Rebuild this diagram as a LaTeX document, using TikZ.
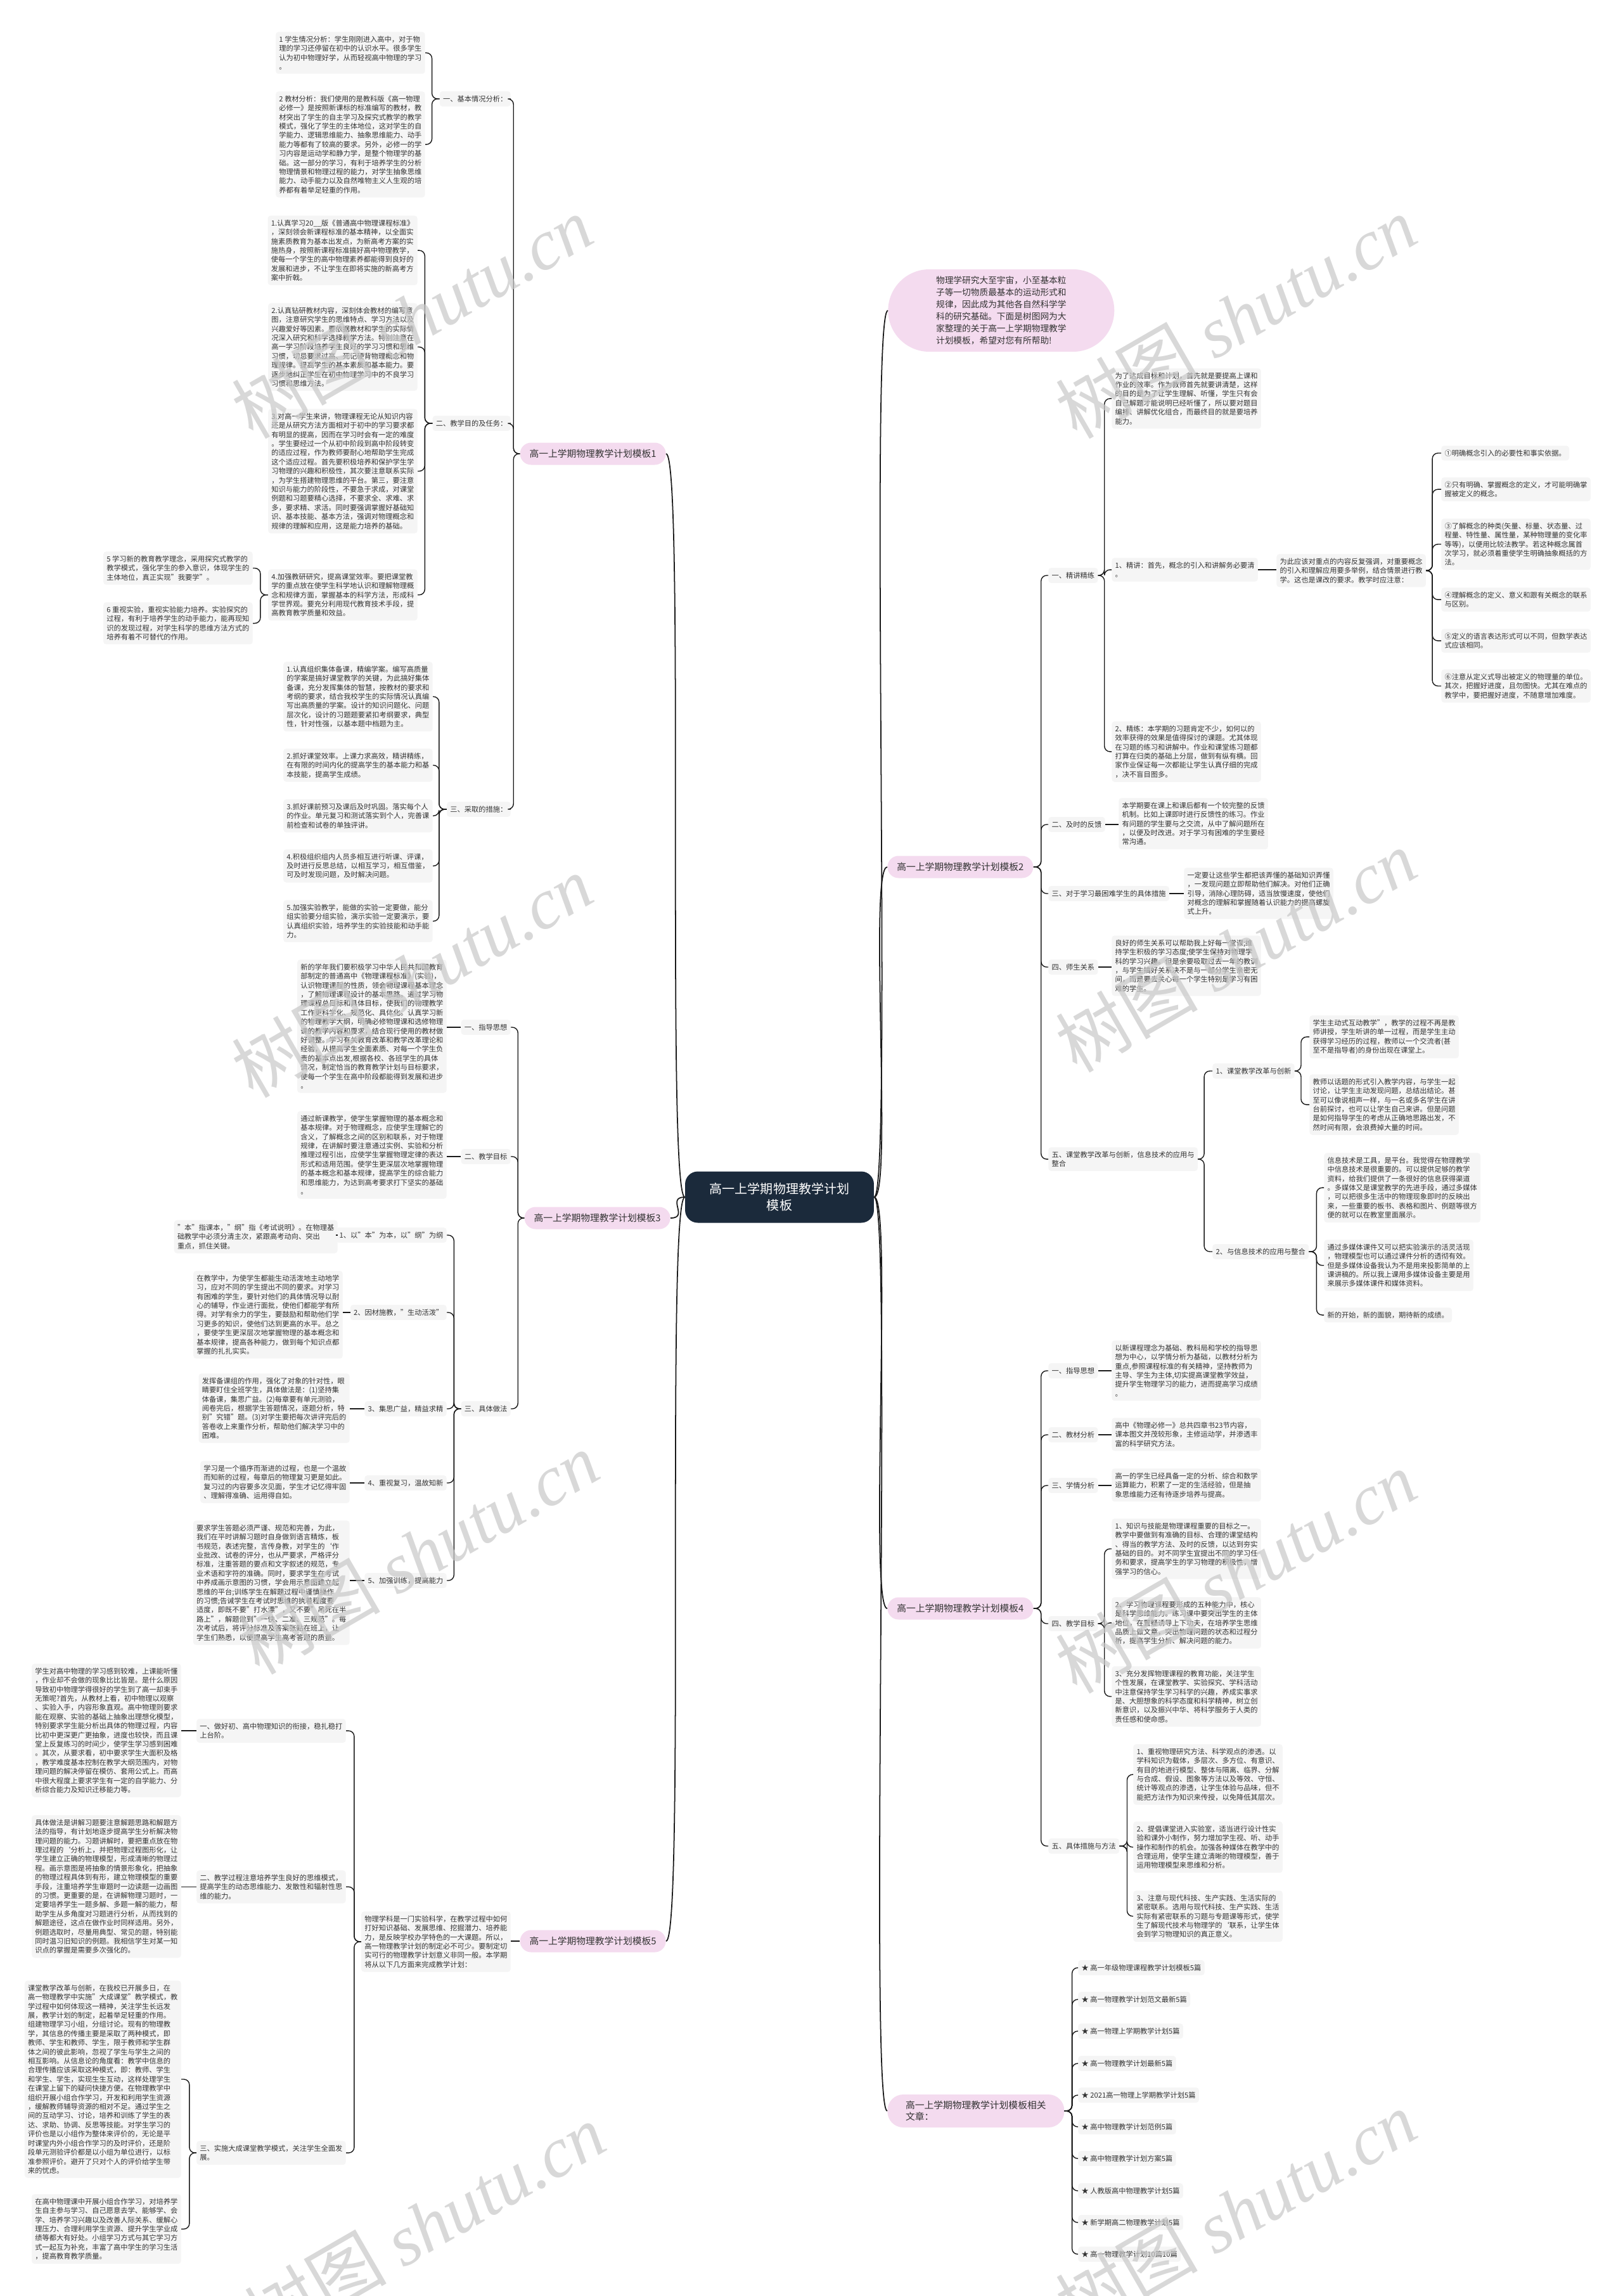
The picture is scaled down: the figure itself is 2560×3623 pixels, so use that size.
\documentclass[tikz,border=0pt]{standalone}
\usepackage{fontspec}
\setmainfont{Noto Sans CJK SC}
\newfontfamily\wmfont{Liberation Serif}
\XeTeXlinebreaklocale "zh"
\usetikzlibrary{positioning}
\definecolor{ink}{HTML}{333333}
\definecolor{wire}{HTML}{1A1A1A}
\definecolor{paper}{HTML}{F5F5F5}
\definecolor{blush}{HTML}{F4DBEF}
\definecolor{navy}{HTML}{1B2A3B}
\definecolor{ghost}{HTML}{C8C8C8}
\tikzset{
  note/.style={rectangle, rounded corners=2.5pt, fill=paper, text=ink,
               align=left, inner xsep=3pt, inner ysep=3.6pt,
               font=\fontsize{6.4}{8.2}\selectfont},
  topic/.style={note, minimum height=13.6pt},
  tpl/.style={rectangle, rounded corners=0.35cm, fill=blush, text=ink,
              align=left, inner xsep=0.3cm, minimum height=0.7cm,
              font=\fontsize{8.4}{10.5}\selectfont},
  hub/.style={rectangle, rounded corners=0.4cm, fill=navy, text=white,
              align=center, minimum width=5.96cm, minimum height=1.62cm,
              font=\fontsize{11.4}{15}\selectfont},
  lnk/.style={draw=wire, line width=0.8pt, rounded corners=5pt},
  trunk/.style={draw=wire, line width=1pt},
  wmark/.style={text=ghost, opacity=0.7, rotate=30, font=\fontsize{64}{64}\selectfont},
}
\begin{document}
\begin{tikzpicture}[x=0.02cm, y=-0.02cm]
  \useasboundingbox[fill=white] (0,0) rectangle (2560,3623);

  \node[hub] (hub) at (1230,1889) {高一上学期物理教学计划\\模板};

  % template 1
  \node[tpl, anchor=east] (t1) at (1051,716) {高一上学期物理教学计划模板1};
  \node[topic, anchor=east] (t1a) at (806,156) {一、基本情况分析：};
  \node[note, anchor=north east] (t1a1) at (671,50) {1 学生情况分析：学生刚刚进入高中，对于物\\理的学习还停留在初中的认识水平。很多学生\\认为初中物理好学，从而轻视高中物理的学习\\。};
  \node[note, anchor=north east] (t1a2) at (671,144) {2 教材分析：我们使用的是教科版《高一物理\\必修一》是按照新课标的标准编写的教材，教\\材突出了学生的自主学习及探究式教学的教学\\模式，强化了学生的主体地位，这对学生的自\\学能力、逻辑思维能力、抽象思维能力、动手\\能力等都有了较高的要求。另外，必修一的学\\习内容是运动学和静力学，是整个物理学的基\\础。这一部分的学习，有利于培养学生的分析\\物理情景和物理过程的能力，对学生抽象思维\\能力、动手能力以及自然唯物主义人生观的培\\养都有着举足轻重的作用。};
  \node[topic, anchor=east] (t1b) at (806,668) {二、教学目的及任务：};
  \node[note, anchor=north east] (t1b1) at (659,340) {1.认真学习20\_\_版《普通高中物理课程标准》\\，深刻领会新课程标准的基本精神，以全面实\\施素质教育为基本出发点，为新高考方案的实\\施热身，按照新课程标准搞好高中物理教学，\\使每一个学生的高中物理素养都能得到良好的\\发展和进步，不让学生在即将实施的新高考方\\案中折戟。};
  \node[note, anchor=north east] (t1b2) at (659,478) {2.认真钻研教材内容，深刻体会教材的编写意\\图，注意研究学生的思维特点、学习方法以及\\兴趣爱好等因素。要依据教材和学生的实际情\\况深入研究和科学选择教学方法。特别注意在\\高一学习阶段培养学生良好的学习习惯和思维\\习惯，切忌要求过高、死记硬背物理概念和物\\理规律。提高学生的基本素质和基本能力。要\\逐步地纠正学生在初中物理学习中的不良学习\\习惯和思维方法。};
  \node[note, anchor=north east] (t1b3) at (659,645) {3.对高一学生来讲，物理课程无论从知识内容\\还是从研究方法方面相对于初中的学习要求都\\有明显的提高，因而在学习时会有一定的难度\\。学生要经过一个从初中阶段到高中阶段转变\\的适应过程，作为教师要耐心地帮助学生完成\\这个适应过程。首先要积极培养和保护学生学\\习物理的兴趣和积极性，其次要注意联系实际\\，为学生搭建物理思维的平台。第三，要注意\\知识与能力的阶段性，不要急于求成，对课堂\\例题和习题要精心选择，不要求全、求难、求\\多，要求精、求活。同时要强调掌握好基础知\\识、基本技能、基本方法，强调对物理概念和\\规律的理解和应用，这是能力培养的基础。};
  \node[note, anchor=north east] (t1b4) at (659,898) {4.加强教研研究，提高课堂效率。要把课堂教\\学的重点放在使学生科学地认识和理解物理概\\念和规律方面，掌握基本的科学方法，形成科\\学世界观。要充分利用现代教育技术手段，提\\高教育教学质量和效益。};
  \node[note, anchor=north east] (t1b5) at (399,870) {5 学习新的教育教学理念，采用探究式教学的\\教学模式，强化学生的参入意识，体现学生的\\主体地位，真正实现"我要学"。};
  \node[note, anchor=north east] (t1b6) at (399,950) {6 重视实验，重视实验能力培养。实验探究的\\过程，有利于培养学生的动手能力，能再现知\\识的发现过程，对学生科学的思维方法方式的\\培养有着不可替代的作用。};
  \node[topic, anchor=east] (t1c) at (806,1277) {三、采取的措施：};
  \node[note, anchor=north east] (t1c1) at (683,1044) {1.认真组织集体备课，精编学案。编写高质量\\的学案是搞好课堂教学的关键，为此搞好集体\\备课，充分发挥集体的智慧，按教材的要求和\\考纲的要求，结合我校学生的实际情况认真编\\写出高质量的学案。设计的知识问题化、问题\\层次化，设计的习题题要紧扣考纲要求，典型\\性，针对性强，以基本题中档题为主。};
  \node[note, anchor=north east] (t1c2) at (683,1181) {2.抓好课堂效率。上课力求高效，精讲精练，\\在有限的时间内化的提高学生的基本能力和基\\本技能，提高学生成绩。};
  \node[note, anchor=north east] (t1c3) at (683,1261) {3.抓好课前预习及课后及时巩固。落实每个人\\的作业。单元复习和测试落实到个人，完善课\\前检查和试卷的单独评讲。};
  \node[note, anchor=north east] (t1c4) at (683,1340) {4.积极组织组内人员多相互进行听课、评课，\\及时进行反思总结，以相互学习，相互借鉴，\\可及时发现问题，及时解决问题。};
  \node[note, anchor=north east] (t1c5) at (683,1420) {5.加强实验教学，能做的实验一定要做，能分\\组实验要分组实验，演示实验一定要演示，要\\认真组织实验，培养学生的实验技能和动手能\\力。};

  % template 3
  \node[tpl, anchor=east] (t3) at (1058,1922) {高一上学期物理教学计划模板3};
  \node[topic, anchor=east] (t3a) at (806,1621) {一、指导思想};
  \node[note, anchor=north east] (t3a1) at (705,1514) {新的学年我们要积极学习中华人民共和国教育\\部制定的普通高中《物理课程标准》(实验)，\\认识物理课程的性质，领会物理课程基本理念\\，了解物理课程设计的基本思路。通过学习物\\理课程总目标和具体目标，使我们的物理教学\\工作更科学化、规范化、具体化。认真学习新\\的物理教学大纲，明确必修物理课和选修物理\\课的教学内容和要求，结合现行使用的教材做\\好调整。学习有关教育改革和教学改革理论和\\经验，从提高学生全面素质、对每一个学生负\\责的基本点出发,根据各校、各班学生的具体\\情况，制定恰当的教育教学计划与目标要求，\\使每一个学生在高中阶段都能得到发展和进步\\。};
  \node[topic, anchor=east] (t3b) at (806,1825) {二、教学目标};
  \node[note, anchor=north east] (t3b1) at (705,1753) {通过新课教学，使学生掌握物理的基本概念和\\基本规律。对于物理概念，应使学生理解它的\\含义，了解概念之间的区别和联系，对于物理\\规律，在讲解时要注意通过实例、实验和分析\\推理过程引出，应使学生掌握物理定律的表达\\形式和适用范围。使学生更深层次地掌握物理\\的基本概念和基本规律，提高学生的综合能力\\和思维能力，为达到高考要求打下坚实的基础\\。};
  \node[topic, anchor=east] (t3c) at (806,2223) {三、具体做法};
  \node[topic, anchor=east] (t3c1) at (705,1949) {1、以"本"为本，以"纲"为纲};
  \node[note, anchor=north east] (t3c1a) at (533,1925) {"本"指课本，"纲"指《考试说明》。在物理基\\础教学中必须分清主次，紧跟高考动向、突出\\重点，抓住关键。};
  \node[topic, anchor=east] (t3c2) at (705,2071) {2、因材施教，"生动活泼"};
  \node[note, anchor=north east] (t3c2a) at (541,2005) {在教学中，为使学生都能生动活泼地主动地学\\习，应对不同的学生提出不同的要求。对学习\\有困难的学生，要针对他们的具体情况导以耐\\心的辅导，作业进行面批，使他们都能学有所\\得。对学有余力的学生，要鼓励和帮助他们学\\习更多的知识，使他们达到更高的水平。总之\\，要使学生更深层次地掌握物理的基本概念和\\基本规律，提高各种能力，做到每个知识点都\\掌握的扎扎实实。};
  \node[topic, anchor=east] (t3c3) at (705,2223) {3、集思广益，精益求精};
  \node[note, anchor=north east] (t3c3a) at (552,2167) {发挥备课组的作用，强化了对象的针对性，眼\\睛要盯住全班学生，具体做法是：(1)坚持集\\体备课，集思广益。(2)每章要有单元测验，\\阅卷完后，根据学生答题情况，逐题分析，特\\别"究错"题。(3)对学生要把每次讲评完后的\\答卷收上来重作分析，帮助他们解决学习中的\\困难。};
  \node[topic, anchor=east] (t3c4) at (705,2340) {4、重视复习，温故知新};
  \node[note, anchor=north east] (t3c4a) at (552,2305) {学习是一个循序而渐进的过程，也是一个温故\\而知新的过程，每章后的物理复习更是如此。\\复习过的内容要多次见面，学生才记忆得牢固\\、理解得准确、运用得自如。};
  \node[topic, anchor=east] (t3c5) at (705,2494) {5、加强训练，提高能力};
  \node[note, anchor=north east] (t3c5a) at (552,2399) {要求学生答题必须严谨、规范和完善，为此，\\我们在平时讲解习题时自身做到语言精炼，板\\书规范，表述完整，言传身教，对学生的`作\\业批改、试卷的评分，也从严要求，严格评分\\标准，注重答题的要点和文字叙述的规范，专\\业术语和字符的准确。同时，要求学生在考试\\中养成画示意图的习惯，学会用示意图建立起\\思维的平台;训练学生在解题过程中谨慎操作\\的习惯;告诫学生在考试时思维的执着程度要\\适度，即既不要"打水漂"，又不要"吊死在半\\路上"，解题做到"一快、二准、三规范"。每\\次考试后，将评分标准及答案张贴在班上，让\\学生们熟悉，以便提高学生高考答题的质量。};

  % template 5
  \node[tpl, anchor=east] (t5) at (1051,3063) {高一上学期物理教学计划模板5};
  \node[note, anchor=north east] (t5r) at (806,3016) {物理学科是一门实验科学，在教学过程中如何\\打好知识基础、发展思维、挖掘潜力、培养能\\力，是反映学校办学特色的一大课题。所以，\\高一物理教学计划的制定必不可少。要制定切\\实可行的物理教学计划意义非同一般。本学期\\将从以下几方面来完成教学计划：};
  \node[note, anchor=north east] (t5a) at (546,2712) {一、做好初、高中物理知识的衔接，稳扎稳打\\上台阶。};
  \node[note, anchor=north east] (t5a1) at (286,2625) {学生对高中物理的学习感到较难，上课能听懂\\，作业却不会做的现象比比皆是。是什么原因\\导致初中物理学得很好的学生到了高一却束手\\无策呢?首先，从教材上看，初中物理以观察\\、实验入手，内容形象直观。高中物理则要求\\能在观察、实验的基础上抽象出理想化模型，\\特别要求学生能分析出具体的物理过程，内容\\比初中更深更广更抽象，进度也较快，而且课\\堂上反复练习的时间少，使学生学习感到困难\\。其次，从要求看，初中要求学生大面积及格\\，教学难度基本控制在教学大纲范围内，对物\\理问题的解决停留在模仿、套用公式上。而高\\中很大程度上要求学生有一定的自学能力、分\\析综合能力及知识迁移能力等。};
  \node[note, anchor=north east] (t5b) at (546,2951) {二、教学过程注意培养学生良好的思维模式，\\提高学生的动态思维能力、发散性和辐射性思\\维的能力。};
  \node[note, anchor=north east] (t5b1) at (286,2864) {具体做法是讲解习题要注意解题思路和解题方\\法的指导，有计划地逐步提高学生分析解决物\\理问题的能力。习题讲解时，要把重点放在物\\理过程的`分析上，并把物理过程图形化，让\\学生建立正确的物理模型，形成清晰的物理过\\程。画示意图是将抽象的情景形象化，把抽象\\的物理过程具体到有形，建立物理模型的重要\\手段，注重培养学生审题时一边读题一边画图\\的习惯。更重要的是，在讲解物理习题时，一\\定要培养学生一题多解、多题一解的能力，帮\\助学生从多角度对习题进行分析，从而找到的\\解题途径，这点在做作业时同样适用。另外，\\例题选取时，尽量用典型、常见的题，特别能\\同时温习旧知识的例题。我相信学生对某一知\\识点的掌握是需要多次强化的。};
  \node[note, anchor=north east] (t5c) at (546,3378) {三、实施大成课堂教学模式，关注学生全面发\\展。};
  \node[note, anchor=north east] (t5c1) at (286,3125) {课堂教学改革与创新，在我校已开展多日，在\\高一物理教学中实施"大成课堂"教学模式，教\\学过程中如何体现这一精神，关注学生长远发\\展，教学计划的制定，起着举足轻重的作用。\\组建物理学习小组，分组讨论。现有的物理教\\学，其信息的传播主要是采取了两种模式，即\\教师、学生和教师、学生，限于教师和学生群\\体之间的彼此影响，忽视了学生与学生之间的\\相互影响。从信息论的角度看：教学中信息的\\合理传播应该采取这种模式，即：教师、学生\\和学生、学生，实现生生互动，这样处理学生\\在课堂上留下的疑问快捷方便。在物理教学中\\组织开展小组合作学习，开发和利用学生资源\\，缓解教师辅导资源的相对不足。通过学生之\\间的互动学习、讨论，培养和训练了学生的表\\达、求助、协调、反思等技能。对学生学习的\\评价也是以小组作为整体来评价的，无论是平\\时课堂内外小组合作学习的及时评价，还是阶\\段单元测验评价都是以小组为单位进行，以标\\准参照评价。避开了只对个人的评价给学生带\\来的忧虑。};
  \node[note, anchor=north east] (t5c2) at (286,3462) {在高中物理课中开展小组合作学习，对培养学\\生自主参与学习、自己愿意去学、能够学、会\\学、培养学习兴趣以及改善人际关系、缓解心\\理压力、合理利用学生资源、提升学生学业成\\绩等都大有好处。小组学习方式与其它学习方\\式一起互为补充，丰富了高中学生的学习生活\\，提高教育教学质量。};

  % intro and template 2
  \node[tpl, anchor=west, rounded corners=1.3cm, minimum width=7.14cm,
        minimum height=2.6cm, font=\fontsize{7.8}{10.8}\selectfont]
       (intro) at (1401,490) {物理学研究大至宇宙，小至基本粒\\子等一切物质最基本的运动形式和\\规律，因此成为其他各自然科学学\\科的研究基础。下面是树图网为大\\家整理的关于高一上学期物理教学\\计划模板，希望对您有所帮助!};
  \node[tpl, anchor=west] (t2) at (1400,1368) {高一上学期物理教学计划模板2};
  \node[topic, anchor=west] (t2a) at (1654,908) {一、精讲精练};
  \node[note, anchor=north west] (t2a1) at (1754,581) {为了达成目标和计划，首先就是要提高上课和\\作业的效率。作为教师首先就要讲清楚，这样\\的目的是为了让学生理解、听懂，学生只有会\\自己解题才能说明已经听懂了，所以要对题目\\编排、讲解优化组合，而最终目的就是要培养\\能力。};
  \node[note, anchor=north west] (t2a2) at (1754,880) {1、精讲：首先，概念的引入和讲解务必要清\\。};
  \node[note, anchor=north west] (t2a3) at (1754,1138) {2、精练：本学期的习题肯定不少，如何以的\\效率获得的效果是值得探讨的课题。尤其体现\\在习题的练习和讲解中。作业和课堂练习题都\\打算在归类的基础上分层，做到有纵有横。回\\家作业保证每一次都能让学生认真仔细的完成\\，决不盲目图多。};
  \node[note, anchor=north west] (t2k) at (2014,874) {为此应该对重点的内容反复强调，对重要概念\\的引入和理解应用要多举例，结合情景进行教\\学。这也是课改的要求。教学时应注意：};
  \node[note, anchor=north west] (t2k1) at (2274,703) {①明确概念引入的必要性和事实依据。};
  \node[note, anchor=north west] (t2k2) at (2274,753) {②只有明确、掌握概念的定义，才可能明确掌\\握被定义的概念。};
  \node[note, anchor=north west] (t2k3) at (2274,818) {③了解概念的种类(矢量、标量、状态量、过\\程量、特性量、属性量，某种物理量的变化率\\等等)，以便用比较法教学。若这种概念属首\\次学习，就必须着重使学生明确抽象概括的方\\法。};
  \node[note, anchor=north west] (t2k4) at (2274,927) {④理解概念的定义、意义和跟有关概念的联系\\与区别。};
  \node[note, anchor=north west] (t2k5) at (2274,992) {⑤定义的语言表达形式可以不同，但数学表达\\式应该相同。};
  \node[note, anchor=north west] (t2k6) at (2274,1056) {⑥注意从定义式导出被定义的物理量的单位。\\其次，把握好进度，且勿图快。尤其在难点的\\教学中，要把握好进度，不随意增加难度。};
  \node[topic, anchor=west] (t2b) at (1654,1301) {二、及时的反馈};
  \node[note, anchor=north west] (t2b1) at (1765,1259) {本学期要在课上和课后都有一个较完整的反馈\\机制。比如上课即时进行反馈性的练习。作业\\有问题的学生要与之交流，从中了解问题所在\\，以便及时改进。对于学习有困难的学生要经\\常沟通。};
  \node[topic, anchor=west] (t2c) at (1654,1410) {三、对于学习最困难学生的具体措施};
  \node[note, anchor=north west] (t2c1) at (1868,1369) {一定要让这些学生都把该弄懂的基础知识弄懂\\，一发现问题立即帮助他们解决。对他们正确\\引导，消除心理防碍，适当放慢速度，使他们\\对概念的理解和掌握随着认识能力的提高螺旋\\式上升。};
  \node[topic, anchor=west] (t2d) at (1654,1526) {四、师生关系};
  \node[note, anchor=north west] (t2d1) at (1754,1476) {良好的师生关系可以帮助我上好每一堂课;维\\持学生积极的学习态度;使学生保持对物理学\\科的学习兴趣。但是余要吸取过去一年的教训\\，与学生搞好关系决不是与一部分学生亲密无\\间，而是要去关心每一个学生特别是学习有困\\难的学生。};
  \node[note, anchor=north west] (t2e) at (1654,1810) {五、课堂教学改革与创新，信息技术的应用与\\整合};
  \node[topic, anchor=west] (t2e1) at (1913,1690) {1、课堂教学改革与创新};
  \node[note, anchor=north west] (t2e1a) at (2066,1602) {学生主动式互动教学"，教学的过程不再是教\\师讲授，学生听讲的单一过程，而是学生主动\\获得学习经历的过程，教师以一个交流者(甚\\至不是指导者)的身份出现在课堂上。};
  \node[note, anchor=north west] (t2e1b) at (2066,1695) {教师以话题的形式引入教学内容，与学生一起\\讨论，让学生主动发现问题，总结出结论。甚\\至可以像说相声一样，与一名或多名学生在讲\\台前探讨，也可以让学生自己来讲。但是问题\\是如何指导学生的考虑从正确地思路出发，不\\然时间有限，会浪费掉大量的时间。};
  \node[topic, anchor=west] (t2e2) at (1913,1975) {2、与信息技术的应用与整合};
  \node[note, anchor=north west] (t2e2a) at (2089,1819) {信息技术是工具，是平台。我觉得在物理教学\\中信息技术是很重要的。可以提供足够的教学\\资料，给我们提供了一条很好的信息获得渠道\\。多媒体又是课堂教学的先进手段，通过多媒体\\，可以把很多生活中的物理现象即时的反映出\\来，一些重要的板书、表格和图片、例题等很方\\便的就可以在教室里面展示。};
  \node[note, anchor=north west] (t2e2b) at (2089,1956) {通过多媒体课件又可以把实验演示的活灵活现\\，物理模型也可以通过课件分析的透彻有效。\\但是多媒体设备我认为不是用来投影简单的上\\课讲稿的。所以我上课用多媒体设备主要是用\\来展示多媒体课件和媒体资料。};
  \node[note, anchor=north west] (t2e2c) at (2089,2063) {新的开始，新的面貌，期待新的成绩。};

  % template 4
  \node[tpl, anchor=west] (t4) at (1400,2538) {高一上学期物理教学计划模板4};
  \node[topic, anchor=west] (t4a) at (1654,2163) {一、指导思想};
  \node[note, anchor=north west] (t4a1) at (1754,2115) {以新课程理念为基础、教科局和学校的指导思\\想为中心，以学情分析为基础，以教材分析为\\重点,参照课程标准的有关精神，坚持教师为\\主导、学生为主体,切实提高课堂教学效益，\\提升学生物理学习的能力，进而提高学习成绩\\。};
  \node[topic, anchor=west] (t4b) at (1654,2264) {二、教材分析};
  \node[note, anchor=north west] (t4b1) at (1754,2237) {高中《物理必修一》总共四章书23节内容，\\课本图文并茂较形象，主修运动学，并渗透丰\\富的科学研究方法。};
  \node[topic, anchor=west] (t4c) at (1654,2344) {三、学情分析};
  \node[note, anchor=north west] (t4c1) at (1754,2317) {高一的学生已经具备一定的分析、综合和数学\\ 运算能力，积累了一定的生活经验，但是抽\\象思维能力还有待逐步培养与提高。};
  \node[topic, anchor=west] (t4d) at (1654,2562) {四、教学目标};
  \node[note, anchor=north west] (t4d1) at (1754,2396) {1、知识与技能是物理课程重要的目标之一。\\教学中要做到有准确的目标、合理的课堂结构\\、得当的教学方法、及时的反馈，以达到夯实\\基础的目的。对不同学生宜提出不同的学习任\\务和要求，提高学生的学习物理的积极性，增\\强学习的信心。};
  \node[note, anchor=north west] (t4d2) at (1754,2520) {2、学习物理课程要形成的五种能力中，核心\\是科学思维能力。练习课中要突出学生的主体\\地位，在置疑诱导上下功夫，在培养学生思维\\品质上做文章，突出物理问题的状态和过程分\\析，提高学生分析、解决问题的能力。};
  \node[note, anchor=north west] (t4d3) at (1754,2629) {3、充分发挥物理课程的教育功能，关注学生\\个性发展，在课堂教学、实验探究、学科活动\\中注意保持学生学习科学的兴趣，养成实事求\\是、大胆想象的科学态度和科学精神，树立创\\新意识，以及振兴中华、将科学服务于人类的\\责任感和使命感。};
  \node[topic, anchor=west] (t4e) at (1654,2913) {五、具体措施与方法};
  \node[note, anchor=north west] (t4e1) at (1788,2752) {1、重视物理研究方法、科学观点的渗透。以\\学科知识为载体，多层次、多方位、有意识、\\有目的地进行模型、整体与隔离、临界、分解\\与合成、假设、图象等方法以及等效、守恒、\\统计等观点的渗透，让学生体验与品味，但不\\能把方法作为知识来传授，以免降低其层次。};
  \node[note, anchor=north west] (t4e2) at (1788,2874) {2、提倡课堂进入实验室，适当进行设计性实\\验和课外小制作，努力增加学生视、听、动手\\操作和制作的机会。加强各种媒体在教学中的\\合理运用，使学生建立清晰的物理模型，善于\\运用物理模型来思维和分析。};
  \node[note, anchor=north west] (t4e3) at (1788,2983) {3、注意与现代科技、生产实践、生活实际的\\紧密联系。选用与现代科技、生产实践、生活\\实际有紧密联系的习题与专题课等形式，使学\\生了解现代技术与物理学的`联系，让学生体\\会到学习物理知识的真正意义。};

  % related articles
  \node[tpl, anchor=west, minimum width=5.58cm, minimum height=1.04cm,
        rounded corners=0.5cm] (t6) at (1400,3331) {高一上学期物理教学计划模板相关\\文章：};
  \node[topic, anchor=west] (t6a) at (1701,3105) {★ 高一年级物理课程教学计划模板5篇};
  \node[topic, anchor=west] (t6b) at (1701,3155) {★ 高一物理教学计划范文最新5篇};
  \node[topic, anchor=west] (t6c) at (1701,3205) {★ 高一物理上学期教学计划5篇};
  \node[topic, anchor=west] (t6d) at (1701,3256) {★ 高一物理教学计划最新5篇};
  \node[topic, anchor=west] (t6e) at (1701,3306) {★ 2021高一物理上学期教学计划5篇};
  \node[topic, anchor=west] (t6f) at (1701,3356) {★ 高中物理教学计划范例5篇};
  \node[topic, anchor=west] (t6g) at (1701,3406) {★ 高中物理教学计划方案5篇};
  \node[topic, anchor=west] (t6h) at (1701,3457) {★ 人教版高中物理教学计划5篇};
  \node[topic, anchor=west] (t6i) at (1701,3507) {★ 新学期高二物理教学计划5篇};
  \node[topic, anchor=west] (t6j) at (1701,3557) {★ 高一物理教学计划10篇10篇};

  % hub links
  \draw[trunk] (hub.west) .. controls +(-30,0) and +(30,0) .. (t1.east);
  \draw[trunk] (hub.west) .. controls +(-30,0) and +(30,0) .. (t3.east);
  \draw[trunk] (hub.west) .. controls +(-30,0) and +(30,0) .. (t5.east);
  \draw[trunk] (hub.east) .. controls +(30,0) and +(-30,0) .. (intro.west);
  \draw[trunk] (hub.east) .. controls +(30,0) and +(-30,0) .. (t2.west);
  \draw[trunk] (hub.east) .. controls +(30,0) and +(-30,0) .. (t4.west);
  \draw[trunk] (hub.east) .. controls +(30,0) and +(-30,0) .. (t6.west);

  % left links
  \draw[lnk] (t1.west) -- ++(-10,0) |- (t1a.east);
  \draw[lnk] (t1.west) -- ++(-10,0) |- (t1b.east);
  \draw[lnk] (t1.west) -- ++(-10,0) |- (t1c.east);
  \draw[lnk] (t1a.west) -- ++(-12,0) |- (t1a1.east);
  \draw[lnk] (t1a.west) -- ++(-12,0) |- (t1a2.east);
  \draw[lnk] (t1b.west) -- ++(-12,0) |- (t1b1.east);
  \draw[lnk] (t1b.west) -- ++(-12,0) |- (t1b2.east);
  \draw[lnk] (t1b.west) -- ++(-12,0) |- (t1b3.east);
  \draw[lnk] (t1b.west) -- ++(-12,0) |- (t1b4.east);
  \draw[lnk] (t1b4.west) -- ++(-12,0) |- (t1b5.east);
  \draw[lnk] (t1b4.west) -- ++(-12,0) |- (t1b6.east);
  \draw[lnk] (t1c.west) -- ++(-12,0) |- (t1c1.east);
  \draw[lnk] (t1c.west) -- ++(-12,0) |- (t1c2.east);
  \draw[lnk] (t1c.west) -- ++(-12,0) |- (t1c3.east);
  \draw[lnk] (t1c.west) -- ++(-12,0) |- (t1c4.east);
  \draw[lnk] (t1c.west) -- ++(-12,0) |- (t1c5.east);

  \draw[lnk] (t3.west) -- ++(-10,0) |- (t3a.east);
  \draw[lnk] (t3.west) -- ++(-10,0) |- (t3b.east);
  \draw[lnk] (t3.west) -- ++(-10,0) |- (t3c.east);
  \draw[lnk] (t3a.west) -- (t3a1.east |- t3a.west);
  \draw[lnk] (t3b.west) -- (t3b1.east |- t3b.west);
  \draw[lnk] (t3c.west) -- ++(-11,0) |- (t3c1.east);
  \draw[lnk] (t3c.west) -- ++(-11,0) |- (t3c2.east);
  \draw[lnk] (t3c.west) -- ++(-11,0) |- (t3c3.east);
  \draw[lnk] (t3c.west) -- ++(-11,0) |- (t3c4.east);
  \draw[lnk] (t3c.west) -- ++(-11,0) |- (t3c5.east);
  \draw[lnk] (t3c1.west) -- (t3c1a.east |- t3c1.west);
  \draw[lnk] (t3c2.west) -- (t3c2a.east |- t3c2.west);
  \draw[lnk] (t3c3.west) -- (t3c3a.east |- t3c3.west);
  \draw[lnk] (t3c4.west) -- (t3c4a.east |- t3c4.west);
  \draw[lnk] (t3c5.west) -- (t3c5a.east |- t3c5.west);

  \draw[lnk] (t5.west) -- (t5r.east |- t5.west);
  \draw[lnk] (t5r.west) -- ++(-11,0) |- (t5a.east);
  \draw[lnk] (t5r.west) -- ++(-11,0) |- (t5b.east);
  \draw[lnk] (t5r.west) -- ++(-11,0) |- (t5c.east);
  \draw[lnk] (t5a.west) -- (t5a1.east |- t5a.west);
  \draw[lnk] (t5b.west) -- (t5b1.east |- t5b.west);
  \draw[lnk] (t5c.west) -- ++(-11,0) |- (t5c1.east);
  \draw[lnk] (t5c.west) -- ++(-11,0) |- (t5c2.east);

  % right links
  \draw[lnk] (t2.east) -- ++(12,0) |- (t2a.west);
  \draw[lnk] (t2.east) -- ++(12,0) |- (t2b.west);
  \draw[lnk] (t2.east) -- ++(12,0) |- (t2c.west);
  \draw[lnk] (t2.east) -- ++(12,0) |- (t2d.west);
  \draw[lnk] (t2.east) -- ++(12,0) |- (t2e.west);
  \draw[lnk] (t2a.east) -- ++(10,0) |- (t2a1.west);
  \draw[lnk] (t2a.east) -- ++(10,0) |- (t2a2.west);
  \draw[lnk] (t2a.east) -- ++(10,0) |- (t2a3.west);
  \draw[lnk] (t2a2.east) -- (t2k.west |- t2a2.east);
  \draw[lnk] (t2k.east) -- ++(10,0) |- (t2k1.west);
  \draw[lnk] (t2k.east) -- ++(10,0) |- (t2k2.west);
  \draw[lnk] (t2k.east) -- ++(10,0) |- (t2k3.west);
  \draw[lnk] (t2k.east) -- ++(10,0) |- (t2k4.west);
  \draw[lnk] (t2k.east) -- ++(10,0) |- (t2k5.west);
  \draw[lnk] (t2k.east) -- ++(10,0) |- (t2k6.west);
  \draw[lnk] (t2b.east) -- (t2b1.west |- t2b.east);
  \draw[lnk] (t2c.east) -- (t2c1.west |- t2c.east);
  \draw[lnk] (t2d.east) -- (t2d1.west |- t2d.east);
  \draw[lnk] (t2e.east) -- ++(10,0) |- (t2e1.west);
  \draw[lnk] (t2e.east) -- ++(10,0) |- (t2e2.west);
  \draw[lnk] (t2e1.east) -- ++(10,0) |- (t2e1a.west);
  \draw[lnk] (t2e1.east) -- ++(10,0) |- (t2e1b.west);
  \draw[lnk] (t2e2.east) -- ++(12,0) |- (t2e2a.west);
  \draw[lnk] (t2e2.east) -- ++(12,0) |- (t2e2b.west);
  \draw[lnk] (t2e2.east) -- ++(12,0) |- (t2e2c.west);

  \draw[lnk] (t4.east) -- ++(12,0) |- (t4a.west);
  \draw[lnk] (t4.east) -- ++(12,0) |- (t4b.west);
  \draw[lnk] (t4.east) -- ++(12,0) |- (t4c.west);
  \draw[lnk] (t4.east) -- ++(12,0) |- (t4d.west);
  \draw[lnk] (t4.east) -- ++(12,0) |- (t4e.west);
  \draw[lnk] (t4a.east) -- (t4a1.west |- t4a.east);
  \draw[lnk] (t4b.east) -- (t4b1.west |- t4b.east);
  \draw[lnk] (t4c.east) -- (t4c1.west |- t4c.east);
  \draw[lnk] (t4d.east) -- ++(10,0) |- (t4d1.west);
  \draw[lnk] (t4d.east) -- ++(10,0) |- (t4d2.west);
  \draw[lnk] (t4d.east) -- ++(10,0) |- (t4d3.west);
  \draw[lnk] (t4e.east) -- ++(12,0) |- (t4e1.west);
  \draw[lnk] (t4e.east) -- ++(12,0) |- (t4e2.west);
  \draw[lnk] (t4e.east) -- ++(12,0) |- (t4e3.west);

  \draw[lnk] (t6.east) -- ++(12,0) |- (t6a.west);
  \draw[lnk] (t6.east) -- ++(12,0) |- (t6b.west);
  \draw[lnk] (t6.east) -- ++(12,0) |- (t6c.west);
  \draw[lnk] (t6.east) -- ++(12,0) |- (t6d.west);
  \draw[lnk] (t6.east) -- ++(12,0) |- (t6e.west);
  \draw[lnk] (t6.east) -- ++(12,0) |- (t6f.west);
  \draw[lnk] (t6.east) -- ++(12,0) |- (t6g.west);
  \draw[lnk] (t6.east) -- ++(12,0) |- (t6h.west);
  \draw[lnk] (t6.east) -- ++(12,0) |- (t6i.west);
  \draw[lnk] (t6.east) -- ++(12,0) |- (t6j.west);

  % watermarks
  \node[wmark] (w1) at (650,500) {树图 {\wmfont\itshape shutu.cn}};
  \node[wmark] (w2) at (1950,500) {树图 {\wmfont\itshape shutu.cn}};
  \node[wmark] (w3) at (650,1540) {树图 {\wmfont\itshape shutu.cn}};
  \node[wmark] (w4) at (1950,1500) {树图 {\wmfont\itshape shutu.cn}};
  \node[wmark] (w5) at (660,2450) {树图 {\wmfont\itshape shutu.cn}};
  \node[wmark] (w6) at (1950,2480) {树图 {\wmfont\itshape shutu.cn}};
  \node[wmark] (w7) at (670,3510) {树图 {\wmfont\itshape shutu.cn}};
  \node[wmark] (w8) at (1950,3490) {树图 {\wmfont\itshape shutu.cn}};
\end{tikzpicture}
\end{document}
